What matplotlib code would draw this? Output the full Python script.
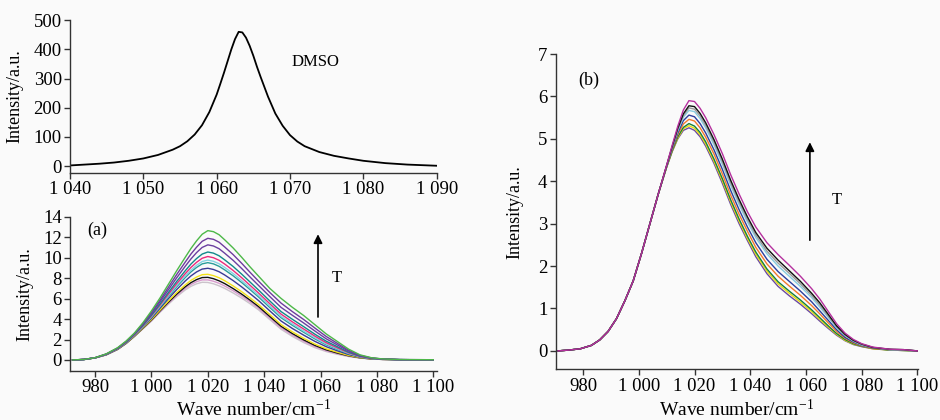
import matplotlib
matplotlib.use("Agg")
import matplotlib.pyplot as plt

plt.rcParams["font.family"] = ["Liberation Serif", "DejaVu Serif"]
plt.rcParams["mathtext.fontset"] = "custom"
plt.rcParams["mathtext.rm"] = "Liberation Serif"
plt.rcParams["mathtext.it"] = "Liberation Serif:italic"

BG = "#fafafa"
AX = "#333333"

# ---- top panel: DMSO band ----
dmso_x = [1040, 1042, 1044, 1046, 1048, 1050, 1052, 1054, 1055, 1056, 1057, 1058,
          1059, 1060, 1060.5, 1061, 1061.5, 1062, 1062.5, 1063, 1063.5, 1064,
          1064.5, 1065, 1065.5, 1066, 1067, 1068, 1069, 1070, 1071, 1072, 1074,
          1076, 1078, 1080, 1083, 1086, 1090]
dmso_y = [2, 5, 8, 12, 18, 26, 38, 56, 68, 85, 108, 140,
          185, 245, 282, 320, 360, 400, 435, 460, 458, 440,
          412, 378, 340, 305, 238, 180, 138, 106, 84, 68, 48,
          35, 26, 18, 10, 5, 1]
top_ticks = [1040, 1050, 1060, 1070, 1080, 1090]
top_labels = ["1 040", "1 050", "1 060", "1 070", "1 080", "1 090"]
top_yticks = [0, 100, 200, 300, 400, 500]

# ---- panel (a) ----
wave_a = [972, 976, 980, 984, 988, 991, 994, 997, 1000, 1003, 1006, 1009, 1012,
          1014, 1016, 1018, 1020, 1022, 1024, 1026, 1029, 1032, 1035, 1038,
          1042, 1046, 1050, 1054, 1058, 1062, 1066, 1070, 1074, 1078, 1082,
          1088, 1094, 1100]
a_grey = [0.0, 0.04, 0.2, 0.5, 1.02, 1.6, 2.3, 3.05, 3.8, 4.65, 5.45, 6.2, 6.85,
          7.2, 7.45, 7.6, 7.58, 7.45, 7.25, 7.0, 6.55, 6.05, 5.5, 4.9,
          3.95, 3.0, 2.3, 1.7, 1.2, 0.82, 0.55, 0.33, 0.18, 0.09, 0.05,
          0.02, 0.01, 0.0]
a_orchid = [0.0, 0.04, 0.2, 0.5, 1.03, 1.61, 2.32, 3.08, 3.85, 4.72, 5.55, 6.32, 7.01,
            7.38, 7.66, 7.83, 7.83, 7.7, 7.5, 7.23, 6.77, 6.25, 5.68, 5.06,
            4.1, 3.14, 2.44, 1.83, 1.31, 0.9, 0.61, 0.37, 0.2, 0.1, 0.05,
            0.02, 0.01, 0.0]
a_black = [0.0, 0.04, 0.2, 0.51, 1.04, 1.62, 2.33, 3.11, 3.9, 4.79, 5.64, 6.45, 7.16,
           7.56, 7.86, 8.06, 8.08, 7.95, 7.74, 7.47, 6.98, 6.44, 5.85, 5.22,
           4.25, 3.29, 2.58, 1.96, 1.42, 0.99, 0.67, 0.4, 0.21, 0.1, 0.05,
           0.02, 0.01, 0.0]
a_yellow = [0.0, 0.04, 0.2, 0.52, 1.05, 1.64, 2.35, 3.14, 3.96, 4.87, 5.76, 6.6, 7.35,
            7.78, 8.11, 8.34, 8.38, 8.25, 8.04, 7.75, 7.24, 6.68, 6.07, 5.42,
            4.44, 3.46, 2.75, 2.12, 1.55, 1.09, 0.75, 0.44, 0.23, 0.11, 0.06,
            0.02, 0.01, 0.0]
a_navy = [0.0, 0.04, 0.21, 0.53, 1.07, 1.67, 2.4, 3.22, 4.08, 5.04, 5.99, 6.9, 7.73,
          8.22, 8.61, 8.89, 8.97, 8.85, 8.63, 8.31, 7.76, 7.15, 6.49, 5.81,
          4.8, 3.81, 3.08, 2.43, 1.82, 1.3, 0.89, 0.53, 0.27, 0.13, 0.06,
          0.03, 0.02, 0.01]
a_teal2 = [0.0, 0.04, 0.21, 0.54, 1.09, 1.7, 2.43, 3.28, 4.18, 5.18, 6.19, 7.17, 8.07,
           8.61, 9.05, 9.4, 9.52, 9.4, 9.16, 8.81, 8.23, 7.58, 6.88, 6.16,
           5.13, 4.13, 3.39, 2.71, 2.06, 1.48, 1.03, 0.61, 0.3, 0.14, 0.07,
           0.03, 0.02, 0.01]
a_cyan = [0.0, 0.04, 0.21, 0.54, 1.1, 1.71, 2.45, 3.31, 4.23, 5.25, 6.29, 7.3, 8.23,
          8.79, 9.26, 9.63, 9.77, 9.65, 9.41, 9.05, 8.45, 7.77, 7.05, 6.32,
          5.29, 4.27, 3.53, 2.84, 2.17, 1.57, 1.09, 0.64, 0.32, 0.15, 0.07,
          0.03, 0.02, 0.01]
a_pink = [0.0, 0.05, 0.21, 0.55, 1.11, 1.73, 2.48, 3.35, 4.3, 5.35, 6.43, 7.48, 8.45,
          9.05, 9.55, 9.95, 10.12, 10.0, 9.75, 9.38, 8.75, 8.05, 7.3, 6.55,
          5.5, 4.48, 3.73, 3.03, 2.33, 1.69, 1.18, 0.69, 0.34, 0.16, 0.08,
          0.03, 0.02, 0.01]
a_teal = [0.0, 0.05, 0.21, 0.56, 1.13, 1.75, 2.51, 3.4, 4.39, 5.47, 6.6, 7.7, 8.73,
          9.38, 9.92, 10.36, 10.56, 10.45, 10.19, 9.79, 9.14, 8.4, 7.62, 6.84,
          5.77, 4.73, 3.98, 3.26, 2.52, 1.84, 1.29, 0.75, 0.37, 0.17, 0.08,
          0.03, 0.02, 0.01]
a_purple2 = [0.0, 0.05, 0.21, 0.57, 1.15, 1.78, 2.55, 3.49, 4.53, 5.67, 6.86, 8.05, 9.17,
             9.88, 10.5, 11.01, 11.26, 11.15, 10.88, 10.44, 9.74, 8.95, 8.11, 7.29,
             6.2, 5.14, 4.37, 3.62, 2.83, 2.07, 1.46, 0.85, 0.41, 0.18, 0.09,
             0.03, 0.02, 0.01]
a_purple1 = [0.0, 0.05, 0.22, 0.59, 1.17, 1.81, 2.6, 3.56, 4.65, 5.84, 7.11, 8.38, 9.58,
             10.36, 11.03, 11.61, 11.9, 11.8, 11.52, 11.05, 10.3, 9.46, 8.57, 7.71,
             6.6, 5.56, 4.73, 3.96, 3.12, 2.3, 1.62, 0.94, 0.45, 0.2, 0.09,
             0.04, 0.03, 0.02]
a_green = [0.0, 0.05, 0.22, 0.6, 1.2, 1.85, 2.65, 3.65, 4.8, 6.05, 7.4, 8.75, 10.05,
           10.9, 11.65, 12.3, 12.65, 12.55, 12.25, 11.75, 10.95, 10.05, 9.1, 8.2,
           7.0, 6.02, 5.15, 4.35, 3.45, 2.55, 1.8, 1.05, 0.5, 0.22, 0.1,
           0.04, 0.03, 0.02]
a_ticks = [980, 1000, 1020, 1040, 1060, 1080, 1100]
a_labels = ["980", "1 000", "1 020", "1 040", "1 060", "1 080", "1 100"]
a_yticks = [0, 2, 4, 6, 8, 10, 12, 14]

# ---- panel (b) ----
wave_b = [971, 975, 979, 983, 986, 989, 992, 995, 998, 1001, 1004, 1007,
          1010, 1012, 1014, 1016, 1018, 1020, 1022, 1024, 1027, 1030, 1033, 1036,
          1039, 1042, 1046, 1050, 1054, 1058, 1062, 1065, 1068, 1071, 1074, 1077,
          1080, 1084, 1090, 1095, 1100]
# all spectra coincide on the rising edge
b_rise = [0.0, 0.02, 0.05, 0.13, 0.26, 0.46, 0.76, 1.18, 1.65, 2.3, 3.0, 3.7]
b_purple = b_rise + [4.33, 4.7, 5.0, 5.2, 5.26, 5.2, 5.05, 4.83, 4.42, 3.95, 3.45, 3.0,
                     2.6, 2.22, 1.82, 1.52, 1.3, 1.1, 0.88, 0.7, 0.53, 0.37, 0.24, 0.15,
                     0.1, 0.05, 0.02, 0.01, 0.0]
b_yellow = b_rise + [4.33, 4.71, 5.02, 5.24, 5.31, 5.25, 5.1, 4.88, 4.47, 4.01, 3.51, 3.06,
                     2.65, 2.28, 1.88, 1.58, 1.36, 1.15, 0.93, 0.74, 0.56, 0.39, 0.25, 0.16,
                     0.11, 0.05, 0.02, 0.01, 0.0]
b_green = b_rise + [4.34, 4.72, 5.05, 5.27, 5.36, 5.3, 5.15, 4.93, 4.52, 4.06, 3.56, 3.11,
                    2.7, 2.33, 1.93, 1.63, 1.41, 1.2, 0.97, 0.78, 0.59, 0.41, 0.27, 0.17,
                    0.11, 0.06, 0.02, 0.01, 0.0]
b_orange = b_rise + [4.35, 4.75, 5.1, 5.35, 5.46, 5.42, 5.26, 5.04, 4.64, 4.17, 3.67, 3.22,
                     2.82, 2.44, 2.05, 1.76, 1.53, 1.31, 1.07, 0.87, 0.66, 0.46, 0.3, 0.19,
                     0.12, 0.06, 0.03, 0.02, 0.0]
b_blue = b_rise + [4.35, 4.77, 5.14, 5.43, 5.56, 5.52, 5.36, 5.14, 4.74, 4.28, 3.78, 3.33,
                   2.92, 2.55, 2.16, 1.87, 1.64, 1.41, 1.16, 0.94, 0.72, 0.5, 0.32, 0.21,
                   0.13, 0.07, 0.03, 0.02, 0.0]
b_lightblue = b_rise + [4.36, 4.8, 5.19, 5.51, 5.67, 5.64, 5.48, 5.26, 4.86, 4.4, 3.9, 3.45,
                        3.04, 2.67, 2.29, 2.0, 1.76, 1.52, 1.26, 1.03, 0.79, 0.54, 0.36, 0.23,
                        0.14, 0.08, 0.03, 0.02, 0.0]
b_grey = b_rise + [4.37, 4.81, 5.22, 5.55, 5.73, 5.7, 5.54, 5.32, 4.92, 4.46, 3.96, 3.51,
                   3.1, 2.73, 2.35, 2.07, 1.83, 1.58, 1.31, 1.08, 0.82, 0.57, 0.37, 0.24,
                   0.15, 0.08, 0.03, 0.02, 0.0]
b_black = b_rise + [4.37, 4.82, 5.25, 5.59, 5.78, 5.76, 5.6, 5.38, 4.98, 4.52, 4.02, 3.57,
                    3.16, 2.79, 2.42, 2.14, 1.89, 1.64, 1.36, 1.13, 0.86, 0.59, 0.39, 0.25,
                    0.16, 0.08, 0.04, 0.03, 0.0]
b_magenta = b_rise + [4.38, 4.85, 5.3, 5.68, 5.9, 5.88, 5.72, 5.5, 5.1, 4.65, 4.15, 3.7,
                      3.28, 2.92, 2.55, 2.27, 2.02, 1.76, 1.47, 1.22, 0.93, 0.64, 0.42, 0.27,
                      0.17, 0.09, 0.04, 0.03, 0.0]
b_ticks = a_ticks
b_labels = a_labels
b_yticks = [0, 1, 2, 3, 4, 5, 6, 7]

# draw order: lowest first
curves_a = [(a_grey, "#cbc3cb"), (a_orchid, "#d89bcd"), (a_black, "#111111"),
            (a_yellow, "#f2e21a"), (a_navy, "#3a3a96"), (a_teal2, "#2a9d9a"),
            (a_cyan, "#86d3e3"), (a_pink, "#ec2a7b"), (a_teal, "#12898a"),
            (a_purple2, "#6a3fa0"), (a_purple1, "#6e3c9e"), (a_green, "#4db848")]
curves_b = [(b_purple, "#6b4aa0"), (b_yellow, "#e8dc10"), (b_green, "#16803c"),
            (b_orange, "#f47a2c"), (b_blue, "#2c3e9e"), (b_lightblue, "#87cde0"),
            (b_grey, "#9a9a9a"), (b_black, "#101010"), (b_magenta, "#b5309e")]

fig = plt.figure(figsize=(9.4, 4.2), dpi=100, facecolor=BG)
ax_top = fig.add_axes([0.0745, 0.588, 0.390, 0.364])
ax_a = fig.add_axes([0.0745, 0.1167, 0.390, 0.367])
ax_b = fig.add_axes([0.5912, 0.1207, 0.3854, 0.7507])


def style(ax, ticks, labels, yticks):
    ax.set_facecolor(BG)
    for s in ("top", "right"):
        ax.spines[s].set_visible(False)
    for s in ("left", "bottom"):
        ax.spines[s].set_linewidth(1.0)
        ax.spines[s].set_color(AX)
    ax.set_xticks(ticks)
    ax.set_xticklabels(labels)
    ax.set_yticks(yticks)
    ax.tick_params(direction="out", length=4, width=1.0, color=AX,
                   labelsize=13.5, pad=2)


# top: DMSO
ax_top.plot(dmso_x, dmso_y, color="black", lw=1.3)
ax_top.set_xlim(1040, 1090)
ax_top.set_ylim(-24, 500)
style(ax_top, top_ticks, top_labels, top_yticks)
ax_top.set_ylabel("Intensity/a.u.", fontsize=13)
ax_top.yaxis.set_label_coords(-0.128, 0.5)
ax_top.text(1073.5, 356, "DMSO", fontsize=12, ha="center", va="center")

# (a)
for ys, c in curves_a:
    ax_a.plot(wave_a, ys, color=c, lw=1.0)
ax_a.set_xlim(971.1, 1101.2)
ax_a.set_ylim(-1.08, 14)
style(ax_a, a_ticks, a_labels, a_yticks)
ax_a.set_ylabel("Intensity/a.u.", fontsize=13)
ax_a.yaxis.set_label_coords(-0.101, 0.5)
ax_a.set_xlabel("Wave number/cm$^{-1}$", fontsize=14)
ax_a.xaxis.set_label_coords(0.5, -0.18)
ax_a.text(980.7, 12.7, "(a)", fontsize=13, ha="center", va="center")
ax_a.annotate("", xy=(1059.1, 12.3), xytext=(1059.1, 4.2),
              arrowprops=dict(arrowstyle="-|>", color="black", lw=1.2,
                              mutation_scale=13, shrinkA=0, shrinkB=0))
ax_a.text(1065.8, 8.0, "T", fontsize=12, ha="center", va="center")

# (b)
for ys, c in curves_b:
    ax_b.plot(wave_b, ys, color=c, lw=1.0)
ax_b.set_xlim(970.2, 1100.2)
ax_b.set_ylim(-0.434, 7)
style(ax_b, b_ticks, b_labels, b_yticks)
ax_b.set_ylabel("Intensity/a.u.", fontsize=13)
ax_b.yaxis.set_label_coords(-0.09, 0.5)
ax_b.set_xlabel("Wave number/cm$^{-1}$", fontsize=14)
ax_b.xaxis.set_label_coords(0.5, -0.093)
ax_b.text(982.0, 6.38, "(b)", fontsize=13, ha="center", va="center")
ax_b.annotate("", xy=(1061.4, 4.92), xytext=(1061.4, 2.61),
              arrowprops=dict(arrowstyle="-|>", color="black", lw=1.2,
                              mutation_scale=13, shrinkA=0, shrinkB=0))
ax_b.text(1071.1, 3.56, "T", fontsize=12, ha="center", va="center")

fig.savefig("out.png", dpi=100, facecolor=BG)
